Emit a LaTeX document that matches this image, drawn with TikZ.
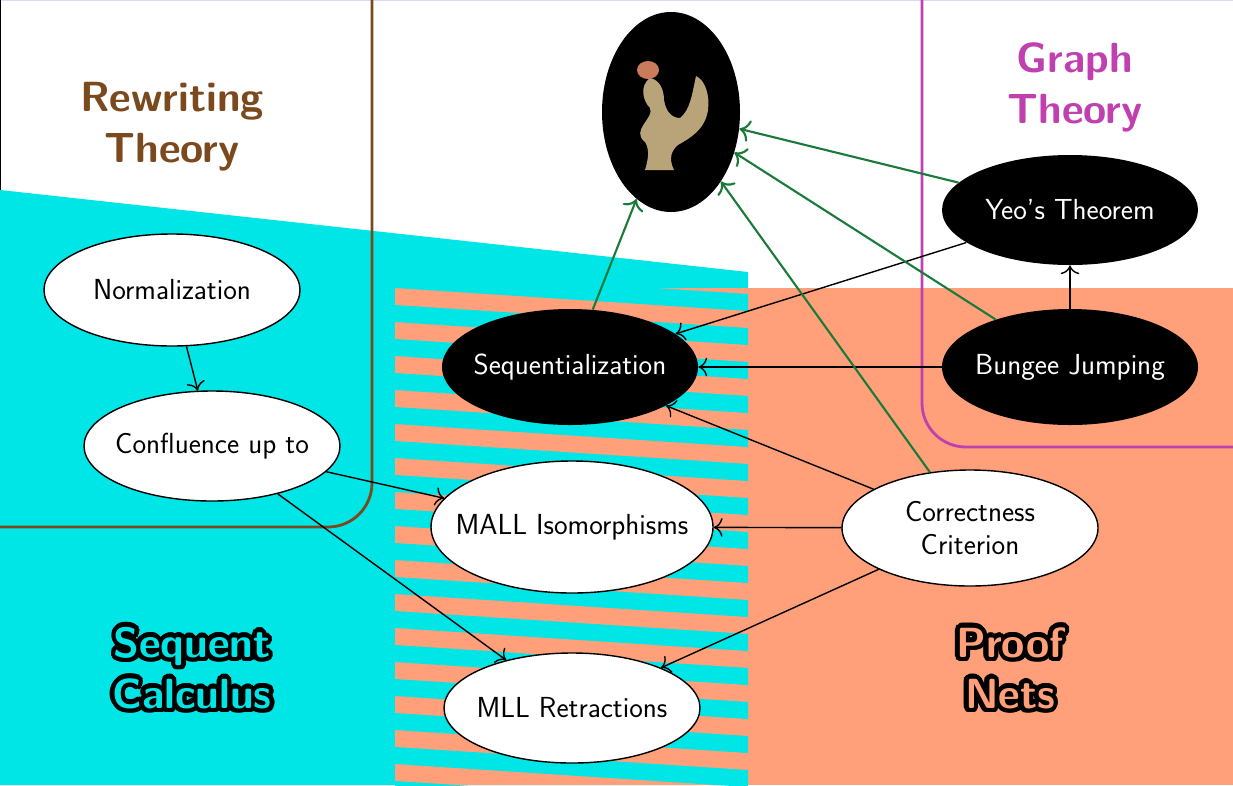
\documentclass[tikz,border=0pt]{standalone}
\usetikzlibrary{shapes.geometric,calc,arrows.meta}
\definecolor{cy}{HTML}{00E5E5}
\definecolor{sa}{HTML}{FFA07A}
\definecolor{br}{HTML}{7A4A1E}
\definecolor{mg}{HTML}{C040B0}
\definecolor{gr}{HTML}{1A7A3A}
\definecolor{tan}{HTML}{B8A478}
\begin{document}
\begin{tikzpicture}[x=0.02cm,y=-0.02cm,
  wn/.style={ellipse,draw=black,thick,fill=white,inner xsep=-4mm,inner ysep=0pt,font=\sffamily\fontsize{16.5}{19}\selectfont,align=center},
  bn/.style={ellipse,fill=black,text=white,inner xsep=-4mm,inner ysep=0pt,font=\sffamily\fontsize{16.5}{19}\selectfont,align=center},
  ed/.style={-{To[scale=1.5]},thick},
  ge/.style={-{To[scale=1.4]},very thick,gr},
  ttl/.style={font=\sffamily\bfseries\fontsize{24}{29}\selectfont,align=center}]
\useasboundingbox (0,0) rectangle (1233,785);
% backgrounds
\fill[cy] (0,190) -- (748,272) -- (748,785) -- (0,785) -- cycle;
\fill[sa] (395,288) rectangle (1233,785);
\begin{scope}
\clip (395,288) rectangle (748,785);
\foreach \k in {-2,...,16}{
  \fill[cy] (395,{288+34*\k+17}) -- (748,{288+34*\k+17+23}) -- (748,{288+34*\k+34+23}) -- (395,{288+34*\k+34}) -- cycle;
}
\end{scope}
\draw[blue!15,thick] (0,0) -- (1233,0);
\draw[black] (0,0) -- (0,190);
% region borders
\draw[br,line width=1.6pt,rounded corners=25] (372,0) -- (372,527) -- (0,527);
\draw[mg,line width=1.6pt,rounded corners=25] (922,0) -- (922,447) -- (1233,447);
% titles
\node[ttl,text=br] (rt) at (172,127) {Rewriting\\Theory};
\node[ttl,text=mg] (gt) at (1075,87) {Graph\\Theory};
\foreach \a in {0,20,...,340}{
  \node[ttl,text=black] at ($(192,668)+(\a:4.5)$) {Sequent\\Calculus};
  \node[ttl,text=black] at ($(1010,668)+(\a:4.5)$) {Proof\\Nets};
}
\node[ttl,text=cy] (sc) at (192,668) {Sequent\\Calculus};
\node[ttl,text=sa] (pn) at (1010,668) {Proof\\Nets};
% rooster
\node[ellipse,fill=black,minimum width=138*0.02cm,minimum height=200*0.02cm,inner sep=0pt] (r) at (671,112) {};
\fill[tan] (650,78) .. controls (640,85) and (642,100) .. (650,108) .. controls (655,118) and (630,130) .. (645,142) .. controls (650,150) and (648,160) .. (645,170) -- (674,170) .. controls (668,158) and (672,150) .. (678,145) .. controls (690,138) and (705,130) .. (708,110) .. controls (710,95) and (705,80) .. (696,76) .. controls (692,95) and (690,110) .. (680,118) .. controls (672,118) and (666,112) .. (664,100) .. controls (664,90) and (660,80) .. (650,78) -- cycle;
\fill[tan!75!red] (648,70) ellipse (11 and 9);
% nodes
\node[wn,minimum width=256*0.02cm,minimum height=112*0.02cm] (norm) at (172,290) {Normalization};
\node[wn,minimum width=256*0.02cm,minimum height=110*0.02cm] (conf) at (212,446) {Confluence up to};
\node[bn,minimum width=256*0.02cm,minimum height=116*0.02cm] (seq) at (570,367) {Sequentialization};
\node[wn,minimum width=282*0.02cm,minimum height=132*0.02cm] (mall) at (572,527) {MALL Isomorphisms};
\node[wn,minimum width=256*0.02cm,minimum height=110*0.02cm] (mll) at (572,708) {MLL Retractions};
\node[wn,minimum width=256*0.02cm,minimum height=116*0.02cm] (cc) at (970,528) {Correctness\\Criterion};
\node[bn,minimum width=256*0.02cm,minimum height=110*0.02cm] (yeo) at (1070,210) {Yeo's Theorem};
\node[bn,minimum width=256*0.02cm,minimum height=116*0.02cm] (bj) at (1070,367) {Bungee Jumping};
% edges
\draw[ed] (norm) -- (conf);
\draw[ed] (conf) -- (mall);
\draw[ed] (conf) -- (mll);
\draw[ed] (yeo) -- (seq);
\draw[ed] (bj) -- (seq);
\draw[ed] (bj) -- (yeo);
\draw[ed] (cc) -- (seq);
\draw[ed] (cc) -- (mall);
\draw[ed] (cc) -- (mll);
\draw[ge] (seq) -- (r);
\draw[ge] (cc) -- (r);
\draw[ge] (bj) -- (r);
\draw[ge] (yeo) -- (r);
\end{tikzpicture}
\end{document}
